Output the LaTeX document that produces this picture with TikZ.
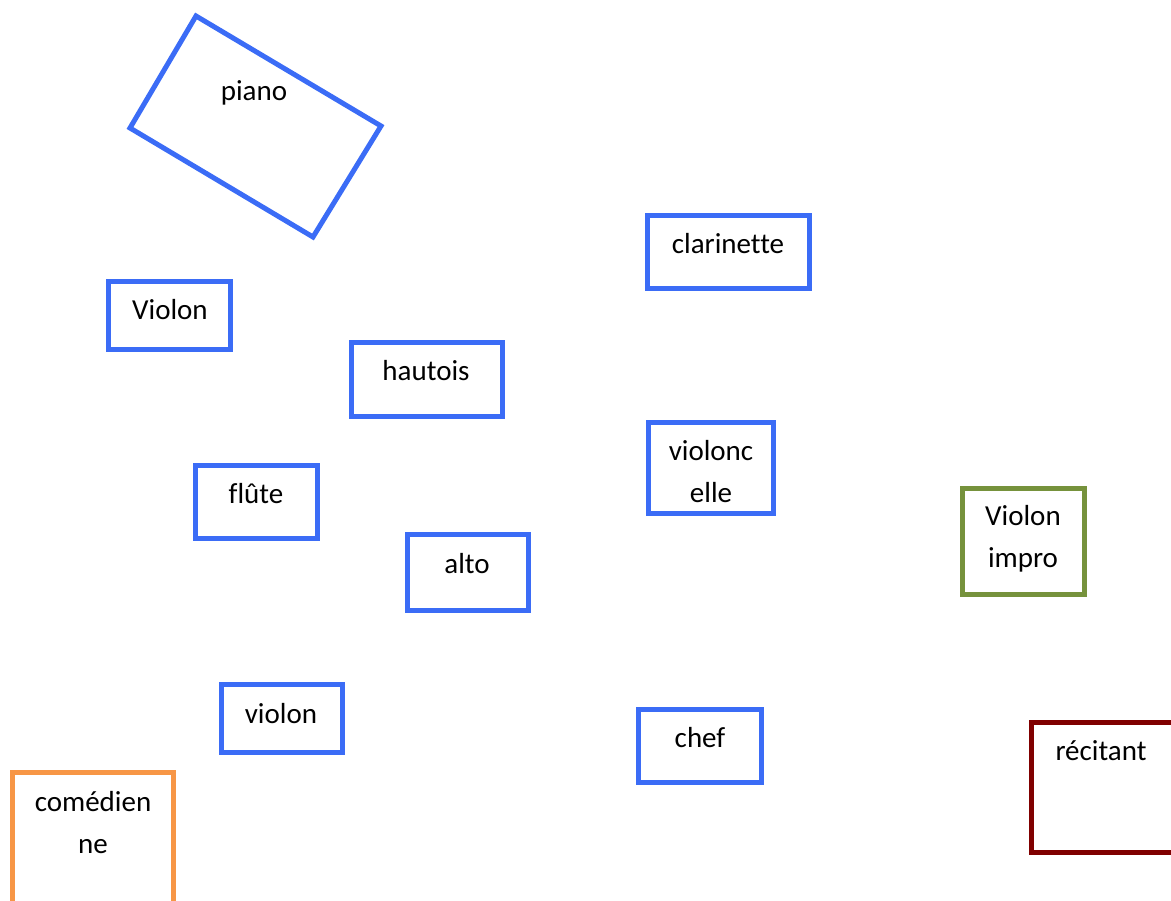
\documentclass[tikz,border=0pt]{standalone}
\usepackage{fontspec}
\setmainfont[Ligatures=NoCommon]{Carlito}
\usepackage{xcolor}
\definecolor{instblue}{RGB}{59,108,246}
\definecolor{impgreen}{RGB}{118,146,60}
\definecolor{comorange}{RGB}{247,150,70}
\definecolor{recred}{RGB}{128,0,0}
\tikzset{
  box/.style={line width=5pt, line join=miter},
  lbl/.style={font=\fontsize{29}{42}\selectfont, align=center, inner sep=0pt}
}
\begin{document}
\begin{tikzpicture}[x=1pt,y=-1pt]
			\useasboundingbox (0,0) rectangle (1171,901);
			\clip (0,0) rectangle (1171,901);
			% instruments
			\draw [box,instblue] (196,16) -- (381,126) -- (313,237) -- (130,128) -- cycle;
			\draw [box,instblue] (647.5,215.5) rectangle (809.5,288.5);
			\draw [box,instblue] (108.5,281.5) rectangle (230.5,349.5);
			\draw [box,instblue] (351.5,342.5) rectangle (502.5,416.5);
			\draw [box,instblue] (648.5,422.5) rectangle (773.5,513.5);
			\draw [box,instblue] (195.5,465.5) rectangle (317.5,538.5);
			\draw [box,instblue] (407.5,534.5) rectangle (528.5,610.5);
			\draw [box,instblue] (221.5,684.5) rectangle (342.5,752.5);
			\draw [box,instblue] (638.5,709.5) rectangle (761.5,782.5);
			% others
			\draw [box,impgreen] (962.5,488.5) rectangle (1084.5,594.5);
			\draw [box,recred] (1031.5,722.5) rectangle (1180,852.5);
			\draw [box,comorange] (12.5,772.5) rectangle (173.5,910);
			% labels
			\draw (254,93) node[lbl] (piano) {piano};
			\draw (728,244) node[lbl] (clarinette) {clarinette};
			\draw (170,310) node[lbl] (violonI) {Violon};
			\draw (426,371) node[lbl] (hautois) {hautois};
			\draw (711,472) node[lbl] (violoncelle) {violonc\\elle};
			\draw (256,494) node[lbl] (flute) {flûte};
			\draw (467,564) node[lbl] (alto) {alto};
			\draw (1023,539) node[lbl] (impro) {Violon\\impro};
			\draw (281,714) node[lbl] (violonII) {violon};
			\draw (700,738) node[lbl] (chef) {chef};
			\draw (1101,751) node[lbl] (recitant) {récitant};
			\draw (93,823) node[lbl] (comedienne) {comédien\\ne};
\end{tikzpicture}
\end{document}
